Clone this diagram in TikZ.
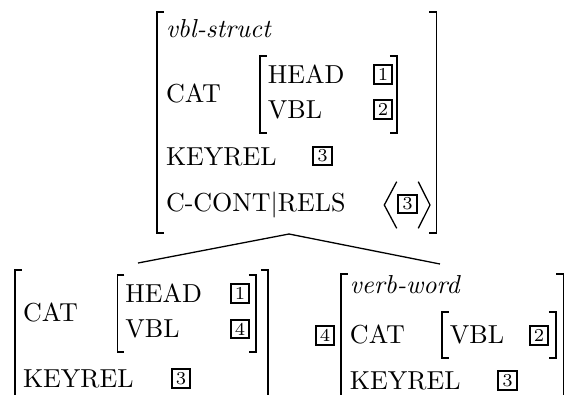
\documentclass[tikz,border=0pt]{standalone}
\tikzset{
  brk/.style={line width=0.7pt},
  ang/.style={line width=0.5pt},
  branch/.style={line width=0.5pt},
  lbl/.style={anchor=base west, inner sep=0pt, outer sep=0pt},
  tagbox/.style={draw, line width=0.8pt, font=\scriptsize, inner sep=0pt,
    minimum width=7.2pt, minimum height=7.0pt},
}
% square brackets of an attribute-value matrix: x, top y, bottom y
\newcommand\avmlb[3]{\draw[brk] (#1+7,#2) -- (#1,#2) -- (#1,#3) -- (#1+7,#3);}
\newcommand\avmrb[3]{\draw[brk] (#1-7,#2) -- (#1,#2) -- (#1,#3) -- (#1-7,#3);}
\begin{document}
\begin{tikzpicture}[x=0.3846pt, y=-0.3846pt]
\useasboundingbox (0,0) rectangle (565,394);
\clip (0,0) rectangle (565,394);

% ---- mother: vbl-struct ----
\avmlb{156.7}{12}{233}
\avmrb{436.5}{12}{233}
\node[lbl] (mtype) at (166,37) {\textit{vbl-struct}};
\node[lbl] (mcat) at (166,102) {CAT};
\avmlb{260}{56}{133}
\avmrb{397}{56}{133}
\node[lbl] (mhead) at (268,83) {HEAD};
\node[lbl] (mvbl) at (268,118) {VBL};
\node[tagbox] (mt1) at (383,74.5) {1};
\node[tagbox] (mt2) at (383,109.5) {2};
\node[lbl] (mkey) at (166,165) {KEYREL};
\node[tagbox] (mt3) at (322.5,156) {3};
\node[lbl] (mcc) at (166,211.7) {C-CONT$|$RELS};
\draw[ang] (396.7,181.7) -- (384.3,205) -- (396.7,228.3);
\draw[ang] (418.3,181.7) -- (430,205) -- (418.3,228.3);
\node[tagbox] (mt3b) at (407.5,204) {3};

% ---- branches ----
\coordinate (apex) at (289,234);
\coordinate (lfoot) at (138,263);
\coordinate (rfoot) at (440,264);
\draw[branch] (apex) -- (lfoot);
\draw[branch] (apex) -- (rfoot);

% ---- left daughter ----
\avmlb{15}{270}{400}
\avmrb{268}{270}{400}
\node[lbl] (lcat) at (23,321) {CAT};
\avmlb{117.5}{275}{352}
\avmrb{256}{275}{352}
\node[lbl] (lhead) at (125.5,302) {HEAD};
\node[lbl] (lvbl) at (125.5,337) {VBL};
\node[tagbox] (lt1) at (240,293.5) {1};
\node[tagbox] (lt4) at (240,329) {4};
\node[lbl] (lkey) at (23,387) {KEYREL};
\node[tagbox] (lt3) at (181,378.5) {3};

% ---- right daughter: verb-word ----
\node[tagbox] (rtag) at (325,335.5) {4};
\avmlb{340.7}{274}{400}
\avmrb{563.5}{274}{400}
\node[lbl] (rtype) at (350,293) {\textit{verb-word}};
\node[lbl] (rcat) at (350,343) {CAT};
\avmlb{442}{312}{358}
\avmrb{556}{312}{358}
\node[lbl] (rvbl) at (450,343) {VBL};
\node[tagbox] (rt2) at (539,335.5) {2};
\node[lbl] (rkey) at (350,389) {KEYREL};
\node[tagbox] (rt3) at (507.5,380.5) {3};
\end{tikzpicture}
\end{document}
